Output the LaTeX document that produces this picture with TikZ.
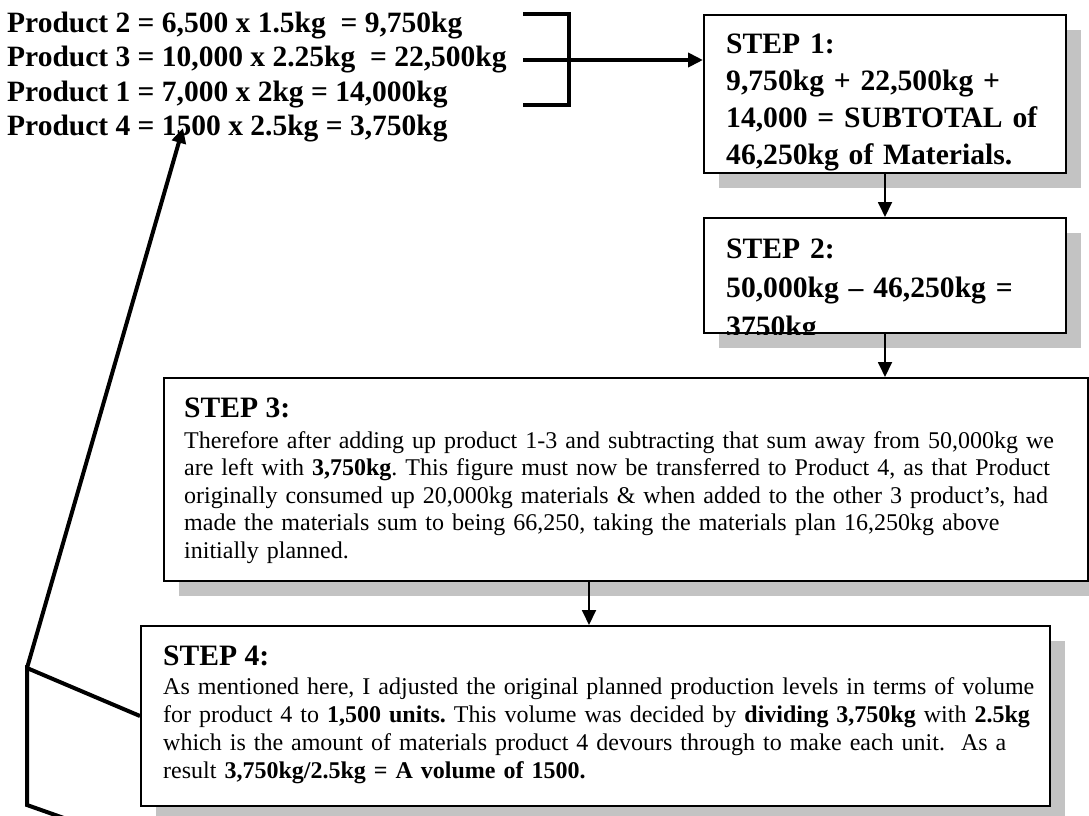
\documentclass[tikz,border=0pt]{standalone}
\usepackage{fontspec}
\setmainfont{Liberation Serif}
\usetikzlibrary{arrows.meta,shadows}
\definecolor{shadowgray}{RGB}{195,195,195}
\frenchspacing
\newcommand{\mybig}{\fontsize{29.6}{37}\selectfont\bfseries}
\newcommand{\mytop}{\fontsize{29.5}{34.5}\selectfont\bfseries}
\begin{document}
\begin{tikzpicture}[x=1pt,y=-1pt,
  box/.style={draw=black, line width=2pt, fill=white, inner sep=0pt, anchor=north west,
    general shadow={fill=shadowgray, shadow xshift=15pt, shadow yshift=-15pt}},
  txt/.style={anchor=base west, inner sep=0pt, align=left, text width=#1},
  oneline/.style={anchor=base west, inner sep=0pt},
  heavy/.style={line width=4pt, line join=miter},
  heavyarrow/.style={line width=4pt, -{Triangle[length=15pt,width=14pt]}},
  thinarrow/.style={line width=1.8pt, -{Triangle[length=15pt,width=14pt]}}]
\useasboundingbox (0,0) rectangle (1089,815);
\clip (0,0) rectangle (1089,815);
\fill[white] (0,0) rectangle (1089,815);

% top-left calculations
\node[oneline, font=\mytop] (p2) at (7,32) {Product 2 = 6,500 x 1.5kg\ \ = 9,750kg};
\node[oneline, font=\mytop] (p3) at (7,66.5) {Product 3 = 10,000 x 2.25kg\ \ = 22,500kg};
\node[oneline, font=\mytop] (p1) at (7,101) {Product 1 = 7,000 x 2kg = 14,000kg};
\node[oneline, font=\mytop] (p4) at (7,135.5) {Product 4 = 1500 x 2.5kg = 3,750kg};

% boxes
\node[box, minimum width=362pt, minimum height=158pt] (s1) at (703,14) {};
\node[box, minimum width=362pt, minimum height=115pt] (s2) at (703,217) {};
\node[box, minimum width=924pt, minimum height=203pt] (s3) at (163,377) {};
\node[box, minimum width=909pt, minimum height=180pt] (s4) at (140,625) {};

% box texts
\node[txt=360pt, font=\mybig] (t1) at (726,53)
  {STEP 1:\\9,750kg + 22,500kg +\\14,000 = SUBTOTAL of\\46,250kg of Materials.};
\begin{scope}
  \clip (s2.north west) rectangle (s2.south east);
  \node[txt=360pt, font=\fontsize{29.6}{39}\selectfont\bfseries] (t2) at (726,258)
    {STEP 2:\\50,000kg -- 46,250kg =\\3750kg};
\end{scope}
\node[oneline, font=\fontsize{29.6}{37}\selectfont\bfseries] (h3) at (184,417) {STEP 3:};
\node[txt=1000pt, font=\fontsize{24}{27.5}\selectfont] (t3) at (184,448)
  {Therefore after adding up product 1-3 and subtracting that sum away from 50,000kg we\\
   are left with \textbf{3,750kg}. This figure must now be transferred to Product 4, as that Product\\
   originally consumed up 20,000kg materials \& when added to the other 3 product’s, had\\
   made the materials sum to being 66,250, taking the materials plan 16,250kg above\\
   initially planned.};
\node[oneline, font=\fontsize{29.6}{37}\selectfont\bfseries] (h4) at (163,665) {STEP 4:};
\node[txt=1000pt, font=\fontsize{24}{28}\selectfont] (t4) at (163,694)
  {As mentioned here, I adjusted the original planned production levels in terms of volume\\
   for product 4 to \textbf{1,500 units.} This volume was decided by \textbf{dividing 3,750kg} with \textbf{2.5kg}\\
   which is the amount of materials product 4 devours through to make each unit.\ \ As a\\
   result \textbf{3,750kg/2.5kg = A volume of 1500.}};

% bracket to step 1
\coordinate (b1) at (523,14);
\coordinate (b2) at (523,60);
\coordinate (b3) at (523,105);
\coordinate (bx) at (569,60);
\draw[heavy] (b1) -- (b1 -| bx) -- (b3 -| bx) -- (b3);
\draw[heavyarrow] (b2) -- (b2 -| s1.west);

% step arrows
\draw[thinarrow] (s1.south) -- (s2.north);
\draw[thinarrow] (s2.south) -- (s2.south |- s3.north);
\coordinate (c34) at (589,600);
\draw[thinarrow] (c34 |- s3.south) -- (c34 |- s4.north);

% feedback from step 4 to product 4
\coordinate (j1) at (27,668);
\coordinate (j2) at (27,805);
\coordinate (j3) at (112,835);
\coordinate (a4) at (183,128);
\draw[heavy] (s4.west) -- (j1) -- (j2) -- (j3);
\draw[heavyarrow] (j1) -- (a4);
\end{tikzpicture}
\end{document}
